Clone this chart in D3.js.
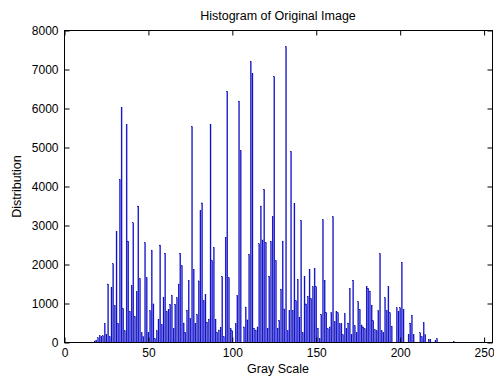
<!DOCTYPE html>
<html><head><meta charset="utf-8">
<script src="https://cdn.jsdelivr.net/npm/d3@7"></script>
<style>html,body{margin:0;padding:0;background:#fff;}svg{display:block;}</style>
</head><body>
<script>
// Gray levels 0..255
const grayLevels = d3.range(0, 256);
// Pixel counts per gray level
const counts = new Array(256).fill(0);
const readings = [
  [18,40],[19,60],[20,120],[21,180],[22,150],[23,170],[24,490],[25,200],[26,1500],[27,150],
  [28,1420],[29,2020],[30,950],[31,2850],[32,490],[33,4180],[34,6030],[35,870],[36,300],[37,5590],
  [38,2600],[39,800],[40,1460],[41,3070],[42,670],[43,1300],[44,3500],[45,1640],[46,250],[47,150],
  [48,2560],[49,1660],[50,250],[51,820],[52,2370],[53,990],[54,100],[55,300],[56,600],[57,2500],
  [58,460],[59,1150],[60,2290],[61,800],[62,850],[63,980],[64,1210],[65,350],[66,980],[67,1150],
  [68,1500],[69,2290],[70,1970],[71,500],[72,260],[73,830],[74,1600],[75,620],[76,5540],[77,1880],
  [78,490],[79,720],[80,1580],[81,3380],[82,3580],[83,1070],[84,1240],[85,520],[86,600],[87,5600],
  [88,2100],[89,2440],[90,600],[91,260],[92,320],[93,390],[94,1690],[95,150],[96,2700],[97,6440],
  [98,1660],[99,370],[100,300],[102,480],[103,1210],[104,6190],[105,4920],[107,400],[108,910],[109,580],
  [110,2260],[111,7210],[112,6900],[113,370],[114,320],[115,400],[116,2530],[117,3500],[118,2630],[119,3930],
  [120,2570],[121,370],[122,1700],[123,2600],[124,3230],[125,6820],[126,2100],[127,370],[128,570],[129,1370],
  [130,2600],[131,860],[132,7590],[133,300],[134,820],[135,4900],[136,830],[137,3570],[138,1070],[139,1620],
  [140,650],[141,3130],[142,250],[143,1700],[144,990],[145,1190],[146,1880],[147,1130],[148,1430],[149,1900],
  [150,1430],[151,370],[152,100],[153,720],[154,3150],[155,1600],[156,770],[157,350],[158,400],[159,770],
  [160,3230],[161,530],[162,800],[163,760],[164,480],[165,480],[166,200],[167,740],[168,350],[169,500],
  [170,1390],[171,200],[172,1600],[173,430],[174,250],[175,1050],[176,850],[177,450],[178,400],[179,350],
  [180,1440],[181,1390],[182,1320],[183,960],[184,560],[185,330],[186,300],[187,820],[188,2280],[189,300],
  [190,250],[191,1150],[192,820],[193,1440],[194,760],[195,420],[198,890],[199,800],[200,890],[201,2060],
  [202,850],[205,200],[206,500],[207,700],[208,200],[212,250],[213,150],[214,510],[215,200],[217,80],
  [218,80],[221,50],[222,100],[232,30]
];
readings.forEach(([g, v]) => { counts[g] = v; });

const xTicks = [0, 50, 100, 150, 200, 250];
const yTicks = [0, 1000, 2000, 3000, 4000, 5000, 6000, 7000, 8000];
const titleText = "Histogram of Original Image";
const xLabel = "Gray Scale";
const yLabel = "Distribution";

const W = 494, H = 379;
const mLeft = 64.5, mRight = 492.5, mTop = 30.5, mBottom = 342.5;
const fontFam = "'Liberation Sans', Arial, sans-serif";

const svg = d3.select("body").append("svg").attr("width", W).attr("height", H)
  .style("font-family", fontFam);

const x = d3.scaleLinear().domain([0, 255]).range([mLeft, mRight]);
const y = d3.scaleLinear().domain([0, 8000]).range([mBottom, mTop]);
const bw = (x(1) - x(0)) * 0.62;

svg.append("g").selectAll("rect").data(grayLevels.filter(g => counts[g] > 0)).join("rect")
  .attr("x", g => x(g) - bw / 2)
  .attr("width", bw)
  .attr("y", g => y(counts[g]))
  .attr("height", g => y(0) - y(counts[g]))
  .attr("fill", "#1010f0")
  .attr("stroke", "#000080")
  .attr("stroke-width", 0.25);

// box
svg.append("rect").attr("x", mLeft).attr("y", mTop).attr("width", mRight - mLeft).attr("height", mBottom - mTop)
  .attr("fill", "none").attr("stroke", "#000").attr("stroke-width", 1);

const tl = 5;
const fs = "12px";
const xAxis = d3.axisBottom(x).tickValues(xTicks).tickSizeInner(-tl).tickSizeOuter(0).tickPadding(6);
const gx = svg.append("g").attr("transform", `translate(0,${mBottom})`).call(xAxis);
gx.select(".domain").remove();
gx.selectAll("text").attr("font-size", fs).attr("fill", "#000").attr("font-family", fontFam);
const gxt = svg.append("g").attr("transform", `translate(0,${mTop})`)
  .call(d3.axisTop(x).tickValues(xTicks).tickSizeInner(-tl).tickSizeOuter(0).tickFormat(""));
gxt.select(".domain").remove();
const yAxis = d3.axisLeft(y).tickValues(yTicks).tickSizeInner(-tl).tickSizeOuter(0).tickPadding(6).tickFormat(d3.format("d"));
const gy = svg.append("g").attr("transform", `translate(${mLeft},0)`).call(yAxis);
gy.select(".domain").remove();
gy.selectAll("text").attr("font-size", fs).attr("fill", "#000").attr("font-family", fontFam);
const gyr = svg.append("g").attr("transform", `translate(${mRight},0)`)
  .call(d3.axisRight(y).tickValues(yTicks).tickSizeInner(-tl).tickSizeOuter(0).tickFormat(""));
gyr.select(".domain").remove();

svg.append("text").attr("x", 278).attr("y", 20).attr("text-anchor", "middle")
  .attr("font-size", "12.5px").text(titleText);
svg.append("text").attr("x", 278).attr("y", 373).attr("text-anchor", "middle")
  .attr("font-size", "12.5px").text(xLabel);
svg.append("text").attr("transform", `translate(21,${(mTop + mBottom) / 2}) rotate(-90)`)
  .attr("text-anchor", "middle").attr("font-size", "12.5px").text(yLabel);
</script>
</body></html>
